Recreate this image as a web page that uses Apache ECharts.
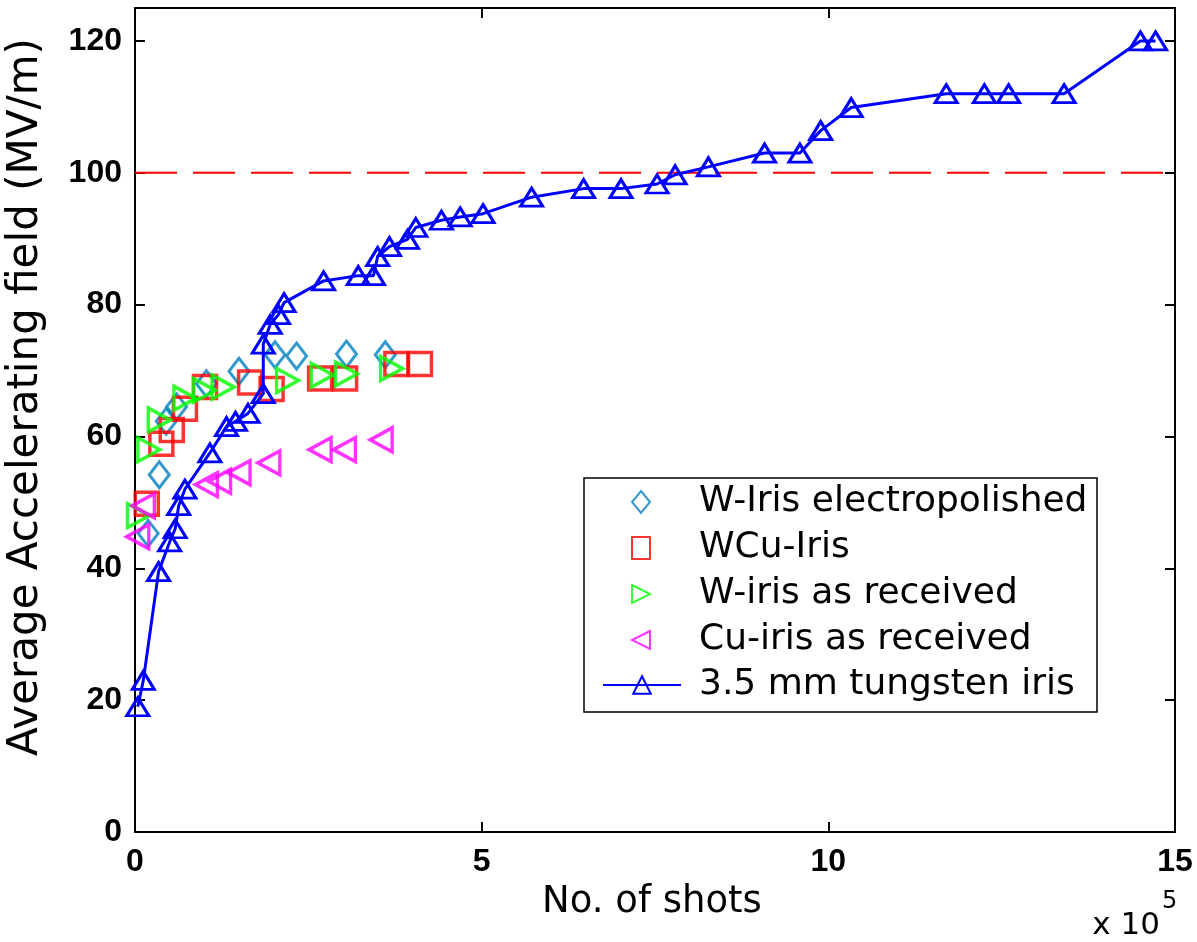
<!DOCTYPE html>
<html><head><meta charset="utf-8">
<script src="https://cdn.jsdelivr.net/npm/echarts@6/dist/echarts.min.js"></script>
<style>html,body{margin:0;padding:0;background:#fff}#c{width:1197px;height:942px}</style>
</head><body><div id="c"></div>
<script>
// ---- data (x in units of 1e5 shots, y in MV/m) ----
const seriesNames = ['W-Iris electropolished', 'WCu-Iris', 'W-iris as received', 'Cu-iris as received', '3.5 mm tungsten iris'];
const wIrisEpX = [0.19, 0.35, 0.45, 0.60, 1.03, 1.50, 2.02, 2.33, 3.05, 3.61];
const wIrisEpY = [45.3, 54.2, 62.3, 64.5, 68.0, 69.9, 72.4, 72.2, 72.5, 72.4];
const wcuX = [0.17, 0.38, 0.53, 0.72, 1.01, 1.66, 1.97, 2.67, 3.03, 3.77, 4.11];
const wcuY = [49.8, 58.9, 61.0, 64.2, 67.5, 68.2, 67.2, 68.8, 68.8, 71.0, 71.0];
const wRecX = [0.05, 0.20, 0.35, 0.72, 1.00, 1.27, 2.20, 2.70, 3.05, 3.70];
const wRecY = [48.0, 58.0, 62.5, 65.8, 67.0, 67.5, 68.5, 69.3, 69.5, 70.3];
const cuRecX = [0.04, 0.12, 1.03, 1.22, 1.50, 1.93, 2.67, 3.02, 3.55];
const cuRecY = [44.8, 49.5, 52.7, 53.2, 54.5, 56.0, 58.0, 58.0, 59.5];
const tungX = [0.04, 0.12, 0.34, 0.50, 0.58, 0.63, 0.72, 1.08, 1.32, 1.45, 1.63, 1.85, 1.85, 1.95, 2.07, 2.15,
  2.72, 3.22, 3.44, 3.50, 3.67, 3.93, 4.05, 4.42, 4.69, 5.02, 5.72, 6.47, 7.01, 7.53, 7.79, 8.27,
  9.08, 9.59, 9.89, 10.33, 11.70, 12.25, 12.60, 13.40, 14.50, 14.72];
const tungY = [19, 23, 39.5, 44, 46, 49.5, 52, 57.5, 61.5, 62.3, 63.5, 66.5, 74, 77, 78.5, 80.3,
  83.6, 84.4, 84.4, 87.3, 88.8, 89.9, 91.7, 92.8, 93.3, 93.8, 96.3, 97.6, 97.6, 98.3, 99.7, 100.9,
  103, 103, 106.4, 109.9, 112, 112, 112, 112, 120, 120];
const thresholdY = 100;
const xRange = [0, 15], xStep = 5;
const yRange = [0, 125], yStep = 20;
const xTitle = 'No. of shots';
const yTitle = 'Average Accelerating field (MV/m)';
const xScaleText = 'x 10';
const xScaleExp = '5';

const pairs = (xs, ys) => xs.map((x, i) => [x, ys[i]]);
const chart = echarts.init(document.getElementById('c'));
const lab = { fontFamily: 'Liberation Sans', fontSize: 32, fontWeight: 'bold', color: '#000' };
const axLine = { show: true, onZero: false, lineStyle: { color: '#000', width: 2 } };
const tick = { show: true, inside: true, length: 10, lineStyle: { color: '#000', width: 2 } };
const T = 'rgba(0,0,0,0)';
const legendText = (padLeft) => ({ fontFamily: 'DejaVu Sans', fontSize: 36, color: '#000', lineHeight: 36, padding: [0, 0, 0, padLeft] });
const rightTri = 'path://M0,0 L10,5 L0,10 Z';
const leftTri = 'path://M10,0 L0,5 L10,10 Z';

chart.setOption({
  animation: false,
  backgroundColor: '#fff',
  grid: { left: 135, top: 8, right: 22, bottom: 110 },
  xAxis: [
    { type: 'value', min: xRange[0], max: xRange[1], interval: xStep, axisLine: axLine, axisTick: tick,
      splitLine: { show: false }, axisLabel: Object.assign({ margin: 14 }, lab) },
    { type: 'value', position: 'top', min: xRange[0], max: xRange[1], interval: xStep, axisLine: axLine,
      axisTick: tick, splitLine: { show: false }, axisLabel: { show: false } }
  ],
  yAxis: [
    { type: 'value', min: yRange[0], max: yRange[1], interval: yStep, axisLine: axLine, axisTick: tick,
      splitLine: { show: false },
      axisLabel: Object.assign({ margin: 13, formatter: v => (v % yStep === 0 ? String(v) : '') }, lab) },
    { type: 'value', position: 'right', min: yRange[0], max: yRange[1], interval: yStep, axisLine: axLine,
      axisTick: tick, splitLine: { show: false }, axisLabel: { show: false } }
  ],
  legend: [
    { orient: 'vertical', left: 631, top: 484, padding: 0,
      data: [
        { name: seriesNames[0] },
        { name: seriesNames[1] },
        { name: seriesNames[2], icon: rightTri },
        { name: seriesNames[3], icon: leftTri }
      ],
      itemWidth: 18, itemHeight: 22, itemGap: 10, textStyle: legendText(44) },
    { orient: 'vertical', left: 602, top: 667, padding: 0,
      data: [seriesNames[4]],
      itemWidth: 78, itemHeight: 22, itemGap: 10, textStyle: legendText(13) }
  ],
  series: [
    { name: 'threshold', type: 'line', data: [[xRange[0], thresholdY], [xRange[1], thresholdY]],
      symbol: 'none', lineStyle: { color: '#ff0000', width: 2, type: [42, 16] }, z: 1, silent: true },
    { name: seriesNames[0], type: 'scatter', data: pairs(wIrisEpX, wIrisEpY), symbol: 'diamond', symbolSize: [20, 26],
      itemStyle: { color: T, borderColor: '#0080bf', borderWidth: 3 } },
    { name: seriesNames[1], type: 'scatter', data: pairs(wcuX, wcuY), symbol: 'rect', symbolSize: [23, 23],
      itemStyle: { color: T, borderColor: '#ff0000', borderWidth: 3.5 } },
    { name: seriesNames[2], type: 'scatter', data: pairs(wRecX, wRecY), symbol: 'triangle', symbolSize: [24, 22], symbolRotate: -90,
      itemStyle: { color: T, borderColor: '#00ff00', borderWidth: 3.5 } },
    { name: seriesNames[3], type: 'scatter', data: pairs(cuRecX, cuRecY), symbol: 'triangle', symbolSize: [24, 22], symbolRotate: 90,
      itemStyle: { color: T, borderColor: '#ff00ff', borderWidth: 3.5 } },
    { name: seriesNames[4], type: 'line', data: pairs(tungX, tungY), symbol: 'triangle', symbolSize: [22, 18],
      showAllSymbol: true,
      lineStyle: { color: '#0000ff', width: 3 },
      itemStyle: { color: T, borderColor: '#0000ff', borderWidth: 3 }, z: 3 }
  ],
  graphic: [
    { type: 'rect', shape: { x: 584, y: 478, width: 513, height: 234 }, z: 50,
      style: { fill: 'none', stroke: '#000', lineWidth: 1.5 } },
    { type: 'text', x: 26, y: 397, rotation: Math.PI / 2,
      style: { text: yTitle, font: '42px "DejaVu Sans"', fill: '#000', textAlign: 'center', textVerticalAlign: 'middle' } },
    { type: 'text', x: 652, y: 902,
      style: { text: xTitle, font: '37px "DejaVu Sans"', fill: '#000', textAlign: 'center', textVerticalAlign: 'middle' } },
    { type: 'text', x: 1160, y: 926,
      style: { text: xScaleText, font: '31px "DejaVu Sans"', fill: '#000', textAlign: 'right', textVerticalAlign: 'middle' } },
    { type: 'text', x: 1162, y: 902,
      style: { text: xScaleExp, font: '24px "DejaVu Sans"', fill: '#000', textAlign: 'left', textVerticalAlign: 'middle' } }
  ]
});
</script>
</body></html>
